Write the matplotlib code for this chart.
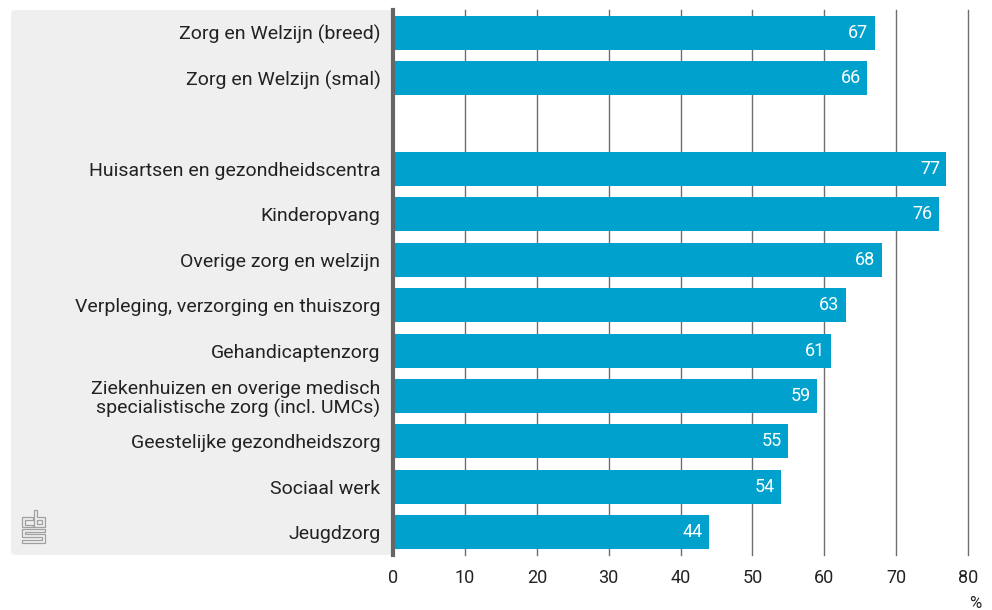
import numpy as np
import matplotlib
matplotlib.use("Agg")
import matplotlib.pyplot as plt
from matplotlib.patches import FancyBboxPatch, Polygon

categories = ["Zorg en Welzijn (breed)", "Zorg en Welzijn (smal)", "",
              "Huisartsen en gezondheidscentra", "Kinderopvang",
              "Overige zorg en welzijn", "Verpleging, verzorging en thuiszorg",
              "Gehandicaptenzorg",
              "Ziekenhuizen en overige medisch\nspecialistische zorg (incl. UMCs)",
              "Geestelijke gezondheidszorg", "Sociaal werk", "Jeugdzorg"]
values = [67, 66, None, 77, 76, 68, 63, 61, 59, 55, 54, 44]
xticks = [0, 10, 20, 30, 40, 50, 60, 70, 80]

plt.rcParams['font.family'] = ['Roboto', 'DejaVu Sans']

W, H = 992, 610
fig = plt.figure(figsize=(W / 100, H / 100), dpi=100)

def fx(px):
    return px / W

def fy(py):
    return 1 - py / H

# grey label panel
panel = FancyBboxPatch((fx(11), fy(555)), fx(393) - fx(11), fy(10) - fy(555),
                       boxstyle="round,pad=0,rounding_size=0.006",
                       transform=fig.transFigure, facecolor="#efefef",
                       edgecolor="none", zorder=-5)
fig.patches.append(panel)

ax = fig.add_axes([fx(393), fy(555), fx(968) - fx(393), fy(10) - fy(555)])
ax.patch.set_alpha(0)

bar_col = "#00a1cd"
for i, v in enumerate(values):
    if v is None:
        continue
    ax.barh(i, v, height=0.75, color=bar_col, zorder=2)
    ax.text(v - 0.9, i, str(v), ha="right", va="center", color="white",
            fontsize=13, zorder=3)

ax.set_ylim(len(categories) - 0.5, -0.5)
ax.set_xlim(0, 80)
for x in xticks[1:]:
    ax.axvline(x, color="#6e6e6e", lw=1, zorder=1, clip_on=False)
ax.axvline(0, color="#666666", lw=3, zorder=4, clip_on=False)

for s in ax.spines.values():
    s.set_visible(False)
ax.set_xticks(xticks)
ax.set_xticklabels([str(x) for x in xticks], fontsize=13, color="#222222")
ax.tick_params(axis="x", length=0, pad=10)
ax.set_yticks(range(len(categories)))
ax.set_yticklabels(categories, fontsize=14, color="#222222", linespacing=1.05)
ax.tick_params(axis="y", length=0, pad=9)

fig.text(fx(975), fy(603), "%", ha="center", va="center", fontsize=12,
         color="#222222")

# small cbs logo, drawn as outlines
lc = "#a0a0a0"
shapes = [
    [(33, 517), (22, 517), (22, 527), (33, 527), (33, 524.5), (25, 524.5),
     (25, 519.5), (33, 519.5)],
    [(34, 510), (37, 510), (37, 517), (45, 517), (45, 527), (34, 527)],
    [(37, 520), (42, 520), (42, 524), (37, 524)],
    [(45, 529), (22, 529), (22, 537), (42, 537), (42, 540), (22, 540),
     (22, 543), (45, 543), (45, 534), (25, 534), (25, 532), (45, 532)],
]
for pts in shapes:
    fig.patches.append(Polygon([(fx(a), fy(b)) for a, b in pts], closed=True,
                               fill=False, edgecolor=lc, lw=0.9,
                               transform=fig.transFigure))

fig.savefig("out.png", dpi=100)
